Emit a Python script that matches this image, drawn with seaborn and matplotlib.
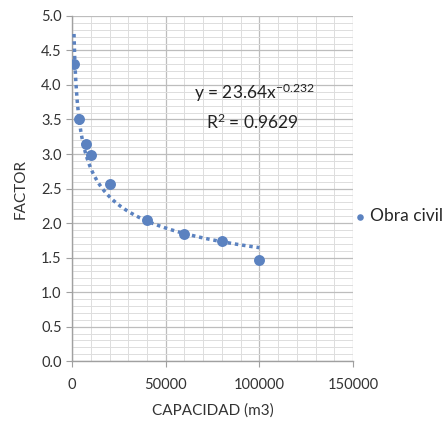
import numpy as np
import pandas as pd
import seaborn as sns
import matplotlib.pyplot as plt
from matplotlib.ticker import MultipleLocator

# datos
capacidad = [1000, 3900, 7500, 10000, 20000, 40000, 60000, 80000, 100000]
factor = [4.30, 3.51, 3.14, 2.98, 2.56, 2.04, 1.84, 1.74, 1.47]
serie = 'Obra civil'
ecuacion = 'y = 23.64x$^{-0.232}$'
r2_texto = 'R$^{2}$ = 0.9629'

azul = '#5B82C0'

df = pd.DataFrame({'CAPACIDAD': capacidad, 'FACTOR': factor})

# ajuste potencial (como la linea de tendencia de Excel)
b, log_a = np.polyfit(np.log(df['CAPACIDAD']), np.log(df['FACTOR']), 1)
x_tend = np.linspace(min(capacidad), max(capacidad), 300)
df_tend = pd.DataFrame({'x': x_tend, 'y': np.exp(log_a) * x_tend ** b})

sns.set_style('white')
plt.rcParams['font.family'] = ['Lato', 'DejaVu Sans']
plt.rcParams['mathtext.default'] = 'regular'

fig = plt.figure(figsize=(4.48, 4.30), dpi=100)
ax = fig.add_axes([0.161, 0.160, 0.627, 0.803])

sns.lineplot(data=df_tend, x='x', y='y', ax=ax, color=azul, linestyle=(0, (1, 1.1)),
             linewidth=2.5, zorder=3, legend=False)
sns.scatterplot(data=df, x='CAPACIDAD', y='FACTOR', ax=ax, color=azul, s=62,
                edgecolor=azul, linewidth=0, zorder=4, label=serie)

ax.set_xlim(0, 150000)
ax.set_ylim(0, 5.0)
ax.xaxis.set_major_locator(MultipleLocator(50000))
ax.xaxis.set_minor_locator(MultipleLocator(10000))
ax.yaxis.set_major_locator(MultipleLocator(0.5))
ax.yaxis.set_minor_locator(MultipleLocator(0.1))
ax.yaxis.set_major_formatter(lambda v, p: f'{v:.1f}')
ax.xaxis.set_major_formatter(lambda v, p: f'{v:.0f}')

ax.grid(which='major', color='#BDBDBD', linewidth=0.9)
ax.grid(which='minor', color='#DDDDDD', linewidth=0.7)
ax.set_axisbelow(True)
for s in ['top', 'right']:
    ax.spines[s].set_visible(False)
for s in ['left', 'bottom']:
    ax.spines[s].set_color('#A0A0A0')
    ax.spines[s].set_linewidth(1.0)
ax.tick_params(which='major', length=4, color='#A0A0A0', labelsize=10.5,
               labelcolor='#333333', left=True, bottom=True)
ax.tick_params(which='minor', length=0)
ax.tick_params(axis='x', pad=8)

ax.set_xlabel('CAPACIDAD (m3)', fontsize=11, color='#333333', labelpad=8)
ax.set_ylabel('FACTOR', fontsize=11, color='#333333', labelpad=10)

ax.text(65000, 3.88, ecuacion, fontsize=12.5, color='#222222', va='center')
ax.text(71500, 3.46, r2_texto, fontsize=12.5, color='#222222', va='center')

ax.legend(loc='center left', bbox_to_anchor=(0.97, 0.42), frameon=False,
          fontsize=12.5, handletextpad=0.05, handlelength=1.0, markerscale=0.6,
          borderaxespad=0)

fig.savefig('out.png', dpi=100)
